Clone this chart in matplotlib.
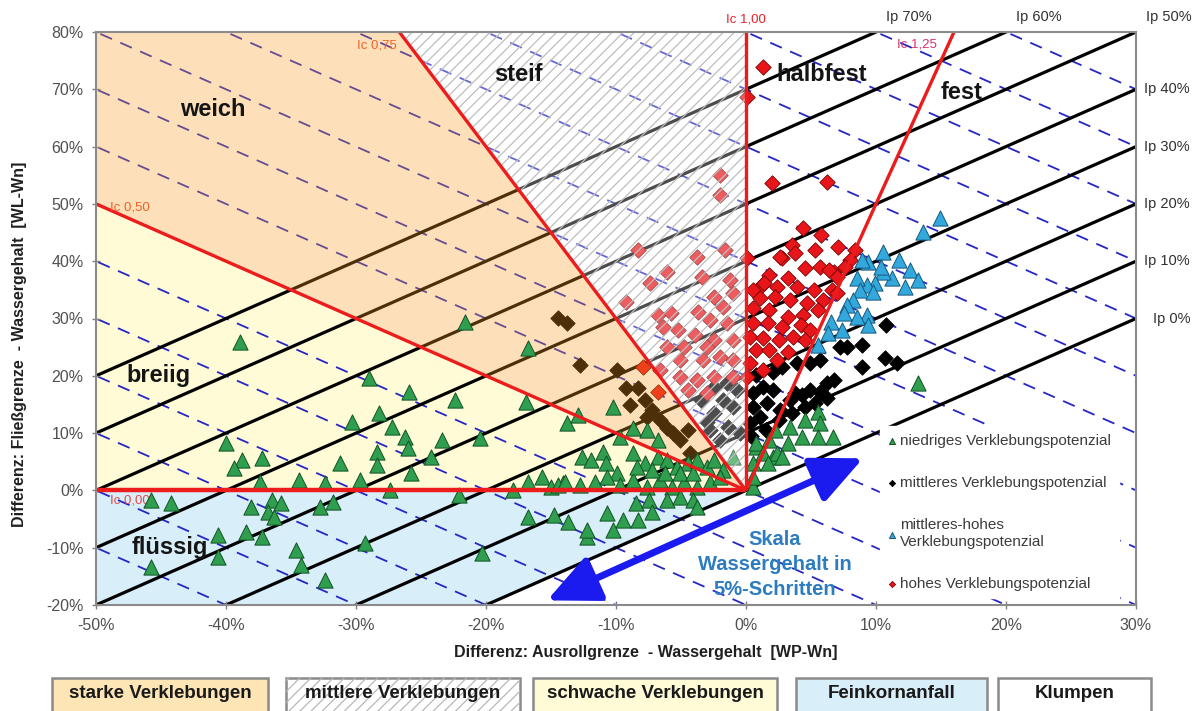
import matplotlib.pyplot as plt
import matplotlib.patches as mpatches
import matplotlib.transforms as mtransforms
import numpy as np

plt.rcParams['font.family'] = ['Liberation Sans', 'DejaVu Sans']
plt.rcParams['hatch.linewidth'] = 0.9

# Messpunkte: x = WP - Wn, y = WL - Wn  (in %)
niedrig_x = [-38.9, -21.6, -16.8, -29.0, -25.9, -22.4, -30.3, -28.2, -27.2, -26.2, -26.0, -23.4, -20.5,
             -24.2, -28.4, -28.4, -25.8, -31.2, -29.7, -32.4, -34.4, -37.4, -40.0, -38.8, -39.4, -37.2,
             -27.4, -22.1, -45.8, -44.2, -38.1, -36.5, -35.8, -36.8, -36.3, -32.8, -31.8, -40.6, -38.5,
             -37.2, -40.6, -45.8, -34.6, -34.2, -32.4, -29.3, -20.3, -17.9, -16.8, -15.7, -15.0, -14.1,
             -16.8, -14.8, -13.7, -12.2, -16.9, -13.8, -12.9, -12.6, -11.9,
             -10.2, -9.7, -8.7, -7.6, -6.8, -11.0, -10.8, -9.9, -8.7, -7.8, -6.8, -6.1, -5.3, -4.5,
             -3.8, -3.0, -2.5, -1.8, -1.0, -14.5, -13.9, -12.8, -11.6, -10.7, -9.7, -8.7, -7.6, -6.6,
             -5.7, -4.8, -3.8, -2.8, -2.0, -8.4, -7.2, -6.2, -5.1, -4.1, -10.7, -9.5, -8.5, -7.5, -7.2,
             -8.3, -6.1, -5.1, -4.1, -3.8, -12.2, -10.2, 0.5, 0.8, 1.8, 2.1,
             13.2, 5.5, 4.5, 3.4, 5.7, 2.2, 4.3, 5.5, 6.7, 0.8, 3.2, 1.3, 2.4, 0.5, 1.7, 2.8, 0.5]
niedrig_y = [25.9, 29.4, 24.9, 19.6, 17.2, 15.8, 11.9, 13.5, 11.1, 9.3, 7.4, 8.8, 9.1,
             5.8, 6.7, 4.4, 3.0, 4.8, 1.8, 1.3, 1.8, 1.5, 8.3, 5.3, 3.9, 5.7,
             0.1, -0.8, -1.7, -2.2, -2.9, -1.7, -2.2, -3.8, -4.6, -2.9, -2.0, -7.8, -7.3,
             -8.1, -11.6, -13.4, -10.4, -13.0, -15.6, -9.2, -10.9, 0.1, 1.5, 2.3, 0.6, 1.3,
             -4.6, -4.3, -5.5, -8.1, 15.4, 11.8, 13.2, 5.8, 5.3,
             14.6, 9.3, 10.9, 10.5, 8.8, 6.7, 4.8, 3.0, 6.5, 4.8, 5.8, 5.3, 4.1, 4.8,
             5.3, 4.1, 5.3, 3.6, 5.8, 0.9, 1.5, 0.9, 1.5, 2.3, 0.9, 1.8, 0.6, 1.8,
             0.6, 1.5, 0.6, 1.5, 2.3, 4.1, 3.6, 3.0, 3.0, 3.0, -3.9, -5.2, -2.2, -1.7, -3.8,
             -5.2, -1.7, -1.2, -1.7, -2.9, -6.9, -6.9, 0.6, 7.6, 8.8, 5.8,
             18.7, 13.7, 12.3, 11.1, 11.8, 10.5, 9.3, 9.3, 9.3, 8.3, 8.3, 6.5, 6.5, 4.8, 4.8, 5.8, 2.3]

mittel_x = [-14.5, -13.8, -12.8, -9.9, -9.2, -8.3, -8.9, -7.8, -7.2, -7.6, -6.6, -6.1, -5.6, -4.5,
            -4.3, -5.1, -2.5, -1.8, -1.0, -2.8, -2.0, -1.4, -2.5, -1.5, -0.7, -3.5, -3.0, -0.5,
            10.8, 8.9, 7.8, 7.2, 8.9, 10.7, 11.6, 6.8, 6.2, 5.7, 6.2, 4.9, 4.3, 3.8, 3.4, 3.9, 4.9,
            5.7, 2.8, 2.1, 0.8, 1.3, 2.1, 0.5, 0.5, 1.6, 2.6, 1.1, 2.5, 3.5, 0.3, 4.5, 5.3, 0.4, 1.5]
mittel_y = [30.1, 29.2, 21.9, 21.0, 17.9, 17.9, 14.9, 15.8, 14.0, 12.8, 12.3, 10.9, 10.0, 10.5,
            6.5, 8.8, 13.5, 15.8, 14.6, 10.5, 8.8, 11.1, 18.0, 18.7, 17.5, 15.8, 12.0, 10.0,
            28.9, 25.4, 25.0, 25.0, 21.5, 23.1, 22.2, 19.3, 18.7, 17.2, 16.1, 17.5, 16.6, 17.0, 15.8, 22.2, 22.2,
            22.8, 21.5, 20.7, 20.1, 18.0, 17.5, 17.0, 14.6, 15.3, 14.0, 12.8, 12.3, 13.5, 11.8, 14.6, 15.3, 9.5, 10.5]

mittelhoch_x = [14.9, 13.6, 10.5, 11.8, 9.4, 8.9, 12.6, 13.2, 11.2, 10.5, 9.9, 9.3, 12.2, 8.5, 8.8,
                9.8, 8.2, 7.8, 9.3, 8.5, 7.5, 6.5, 7.4, 6.3, 9.4, 5.5, 10.4]
mittelhoch_y = [47.5, 45.1, 41.6, 40.2, 39.9, 40.2, 38.5, 36.7, 37.1, 38.1, 36.2, 35.8, 35.5, 37.1, 35.0,
                34.6, 33.2, 32.4, 30.6, 30.3, 31.0, 29.4, 28.0, 27.5, 28.9, 25.4, 39.0]

hoch_x = [1.3, 0.1, 2.0, 6.2, -2.0, -2.0, -8.3, -3.8, -1.6, 0.1, -6.1, -7.4, -3.4, -1.2, -9.2, -6.8,
          -5.8, -6.4, -3.7, -2.5, -1.8, -1.0, -5.2, -3.9, -2.8, -1.5, -2.5, -1.0, -3.0, -4.8, -6.1,
          -3.3, -2.0, -5.1, -6.6, -5.1, -3.8, -2.5, -4.5, -3.0, -1.0, -1.0, -7.9, -6.8,
          4.4, 5.8, 3.5, 5.3, 7.1, 8.4, 2.8, 3.8, 8.0, 4.5, 5.7, 6.8, 1.8, 3.2, 1.2, 2.4, 3.9, 5.2,
          6.6, 0.5, 1.1, 2.2, 3.4, 4.7, 5.9, 7.0, 0.5, 1.8, 3.2, 4.4, 5.5, 0.5, 1.7, 2.8, 4.2, 4.9,
          0.3, 1.3, 2.5, 3.6, 4.5, 0.8, 1.8, 3.2, 2.4, 1.3, 0.3, 0.1, 7.6, 6.4, 2.6, 1.4, 7.0]
hoch_y = [73.9, 68.7, 53.6, 53.8, 55.0, 51.6, 42.0, 40.7, 42.0, 40.6, 38.1, 36.2, 37.2, 36.7, 32.9, 30.6,
          31.0, 28.5, 31.1, 33.8, 32.0, 34.4, 28.0, 27.1, 29.7, 29.2, 26.2, 26.2, 25.0, 25.0, 25.0,
          22.8, 23.3, 22.8, 21.0, 19.8, 19.3, 19.8, 17.5, 17.0, 22.8, 19.8, 21.5, 17.2,
          45.8, 44.6, 42.8, 42.0, 42.5, 42.0, 40.6, 41.4, 40.2, 38.8, 39.0, 38.1, 37.6, 37.1, 35.8, 35.5, 35.5, 35.0,
          35.0, 35.0, 33.6, 33.8, 33.2, 32.7, 33.2, 34.4, 31.8, 31.5, 30.3, 30.6, 31.5, 29.2, 29.2, 28.5, 28.9, 28.0,
          26.8, 26.6, 26.2, 26.8, 26.2, 24.5, 24.5, 24.2, 22.8, 21.0, 22.2, 19.8, 39.0, 38.5, 40.7, 36.2, 37.2]

# Plastizitätszahl Ip (y = x + Ip), Konsistenzzahl Ic, Wassergehaltsstufen (y = -x + c)
ip_werte = [0, 10, 20, 30, 40, 50, 60, 70]
ic_werte = [0.0, 0.50, 0.75, 1.00, 1.25]
stufen = list(range(-70, 120, 10))

xmin, xmax, ymin, ymax = -50, 30, -20, 80

fig = plt.figure(figsize=(11.95, 7.11), dpi=100)
ax = fig.add_axes([96 / 1195, 106 / 711, 1040 / 1195, 573 / 711])
ax.set_xlim(xmin, xmax)
ax.set_ylim(ymin, ymax)

# Hintergrundflächen
ax.add_patch(mpatches.Polygon([(xmin, 0), (0, 0), (ymin, ymin), (xmin, ymin)],
                              facecolor='#d8eef9', edgecolor='none', zorder=0.5))
ax.add_patch(mpatches.Polygon([(xmin, 0), (0, 0), (xmin, -xmin)],
                              facecolor='#fffbd7', edgecolor='none', zorder=0.5))

# Linien gleichen Wassergehalts (gestrichelt) und Ip-Linien
xx = np.array([xmin - 10, xmax + 10])
for c in stufen:
    ax.plot(xx, -xx + c, color='#2626c4', lw=1.3, dashes=(7, 5), zorder=1)
for ip in ip_werte:
    ax.plot(xx, xx + ip, color='black', lw=2.3, zorder=1.5)

# Messpunkte
sc_mittel = ax.scatter(mittel_x, mittel_y, marker='D', s=62, c='black', edgecolors='black',
                       linewidths=0.6, zorder=2)
sc_hoch = ax.scatter(hoch_x, hoch_y, marker='D', s=62, c='#e8161a', edgecolors='#7a0000',
                     linewidths=0.6, zorder=2)
sc_mh = ax.scatter(mittelhoch_x, mittelhoch_y, marker='^', s=120, c='#33a8dc', edgecolors='#17587e',
                   linewidths=0.7, zorder=2)

# weich (halbtransparent über den Punkten)
ax.add_patch(mpatches.Polygon([(xmin, -xmin), (0, 0), (-ymax / 3, ymax), (xmin, ymax)],
                              facecolor=(0.98, 0.62, 0.12, 0.31), edgecolor='none', zorder=3))

sc_niedrig = ax.scatter(niedrig_x, niedrig_y, marker='^', s=120, c='#2f9e4e', edgecolors='#125226',
                        linewidths=0.7, zorder=4)

# steif: schraffiert
ax.add_patch(mpatches.Polygon([(0, 0), (-ymax / 3, ymax), (0, ymax)],
                              facecolor=(1, 1, 1, 0.3), edgecolor='#bebebe', hatch='///',
                              linewidth=0, zorder=5))

# Ic-Linien vom Ursprung aus
for ic in ic_werte:
    t = np.array([0, 200])
    ax.plot(t * (ic - 1), t * ic, color='#ec1c1c', lw=3.2 if ic == 0 else 2.4,
            zorder=6, solid_capstyle='butt')

# Beschriftung der Zonen
zonen = [('weich', -41, 66.5), ('steif', -17.5, 72.5), ('halbfest', 5.8, 72.5),
         ('fest', 16.6, 69.5), ('breiig', -45.2, 20), ('flüssig', -44.3, -10)]
for name, zx, zy in zonen:
    ax.text(zx, zy, name, fontsize=17, fontweight='bold', color='#151515',
            ha='center', va='center', zorder=7)

ax.text(0, 81.2, 'Ic 1,00', color='#e8202a', fontsize=9.5, ha='center', va='bottom',
        clip_on=False, zorder=7)
ax.text(-26.9, 77.6, 'Ic 0,75', color='#f0622a', fontsize=9.5, ha='right', va='center', zorder=7)
ax.text(11.6, 77.8, 'Ic 1,25', color='#e0306a', fontsize=9.5, ha='left', va='center', zorder=7)
ax.text(-48.9, 49.3, 'Ic 0,50', color='#f0622a', fontsize=9.5, ha='left', va='center', zorder=7)
ax.text(-48.9, -1.8, 'Ic 0,00', color='#e84848', fontsize=9.5, ha='left', va='center', zorder=3.5)

# Ip-Beschriftung
right = mtransforms.blended_transform_factory(ax.transAxes, ax.transData)
for ip in ip_werte:
    yr = xmax + ip
    if yr < ymax:
        ax.text(1.052, yr, f'Ip {ip}%', transform=right, fontsize=10.5, color='#303030',
                ha='right', va='center', clip_on=False)
    else:
        ax.text(ymax - ip + 0.8, 82.6, f'Ip {ip}%', fontsize=10.5, color='#303030',
                ha='left', va='center', clip_on=False)

# Pfeil für die Wassergehaltsskala
ax.annotate('', xy=(9.0, 5.6), xytext=(-15.3, -19.2),
            arrowprops=dict(arrowstyle='<|-|>,head_length=1.3,head_width=0.6', lw=5,
                            color='#1b1bef', mutation_scale=24, shrinkA=0, shrinkB=0),
            zorder=7)
ax.text(2.2, -12.9, 'Skala\nWassergehalt in\n5%-Schritten', color='#2b7cc0', fontsize=14.5,
        fontweight='bold', ha='center', va='center', linespacing=1.4, zorder=7)

# Legende
leg = ax.legend([sc_niedrig, sc_mittel, sc_mh, sc_hoch],
                ['niedriges Verklebungspotenzial', 'mittleres Verklebungspotenzial',
                 'mittleres-hohes\nVerklebungspotenzial', 'hohes Verklebungspotenzial'],
                loc='upper left', bbox_to_anchor=(0.754, 0.312), frameon=True, facecolor='white',
                edgecolor='white', framealpha=1, fancybox=False, fontsize=11, markerscale=0.4,
                handlelength=0.6, handletextpad=0.2, labelspacing=1.85, borderpad=0.5,
                borderaxespad=0)
leg.set_zorder(8)
for t in leg.get_texts():
    t.set_color('#3c3c3c')

# Achsen
xt = list(range(xmin, xmax + 1, 10))
yt = list(range(ymin, ymax + 1, 10))
ax.set_xticks(xt)
ax.set_xticklabels([f'{v}%' for v in xt])
ax.set_yticks(yt)
ax.set_yticklabels([f'{v}%' for v in yt])
ax.tick_params(axis='both', labelsize=11.5, labelcolor='#505050', color='#808080',
               direction='inout', length=6, width=1, pad=6)
for sp in ax.spines.values():
    sp.set_color('#8a8a8a')
    sp.set_linewidth(1.5)
    sp.set_zorder(9)

ax.set_xlabel('Differenz: Ausrollgrenze  - Wassergehalt  [WP-Wn]', fontsize=11.5,
              fontweight='bold', color='#202020')
ax.xaxis.set_label_coords(0.529, -0.07)
ax.set_ylabel('Differenz: Fließgrenze  - Wassergehalt  [WL-Wn]', fontsize=11.5,
              fontweight='bold', color='#202020')
ax.yaxis.set_label_coords(-0.066, 0.455)

# Kästen unter dem Diagramm
kaesten = ['starke Verklebungen', 'mittlere Verklebungen', 'schwache Verklebungen',
           'Feinkornanfall', 'Klumpen']
kasten_farben = ['#fde5b5', 'white', '#fffbd7', '#d8eef9', 'white']
kasten_px = [(52, 268), (286, 520), (533, 777), (796, 987), (998, 1151)]
for name, farbe, (x0, x1) in zip(kaesten, kasten_farben, kasten_px):
    rect = mpatches.Rectangle((x0 / 1195, -0.03), (x1 - x0) / 1195, 0.076,
                              transform=fig.transFigure, facecolor=farbe,
                              edgecolor='#8a8a8a', lw=1.8)
    fig.add_artist(rect)
    if name == 'mittlere Verklebungen':
        fig.add_artist(mpatches.Rectangle((x0 / 1195, -0.03), (x1 - x0) / 1195, 0.076,
                                          transform=fig.transFigure, facecolor='none',
                                          edgecolor='#b8b8b8', hatch='///', lw=0))
    fig.text((x0 + x1) / 2 / 1195, 1 - 694 / 711, name, fontsize=13.5, fontweight='bold',
             color='#1a1a1a', ha='center', va='center')

fig.savefig('out.png', dpi=100)
